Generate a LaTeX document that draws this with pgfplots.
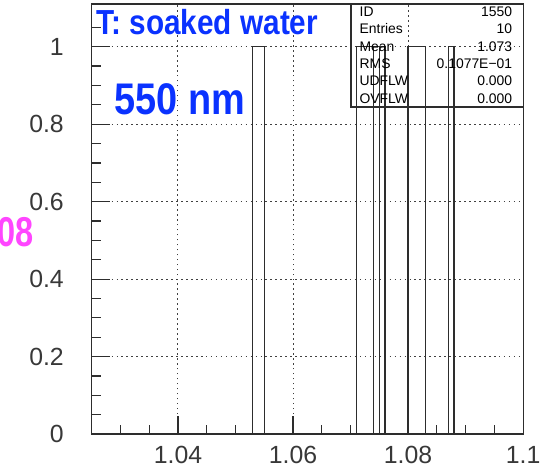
\documentclass[border=0pt]{standalone}
\usepackage{fontspec}
\setmainfont{Liberation Sans}
\usepackage{graphicx}
\usepackage{pgfplots}
\usepackage{pgfplotstable}
\pgfplotsset{compat=1.18}

\definecolor{titleblue}{RGB}{10,50,255}
\definecolor{labelmagenta}{RGB}{255,70,255}
\definecolor{inkgray}{RGB}{45,45,45}

% Outline of the histogram (bin width 0.001, one entry per filled bin)
\pgfplotstableread{
x      y
1.053  0
1.053  1
1.055  1
1.055  0
1.071  0
1.071  1
1.074  1
1.074  0
1.074  1
1.075  1
1.075  0
1.075  1
1.076  1
1.076  0
1.080  0
1.080  1
1.083  1
1.083  0
1.087  0
1.087  1
1.088  1
1.088  0
}\histoutline

\begin{document}
\begin{tikzpicture}
\begin{axis}[
  at={(0,0)}, anchor=south west,
  scale only axis, width=217.2pt, height=216.5pt,
  xmin=1.025, xmax=1.1, ymin=0, ymax=1.1103,
  xtick={1.04,1.06,1.08,1.1}, xticklabels={1.04,1.06,1.08,1.1},
  minor xtick={1.03,1.035,1.045,1.05,1.055,1.065,1.07,1.075,1.085,1.09,1.095},
  ytick={0,0.2,0.4,0.6,0.8,1}, yticklabels={0,0.2,0.4,0.6,0.8,1},
  minor ytick={0.05,0.1,0.15,0.25,0.3,0.35,0.45,0.5,0.55,0.65,0.7,0.75,0.85,0.9,0.95,1.05},
  tick align=inside, xtick pos=bottom, ytick pos=left,
  major tick length=9pt, minor tick length=4.75pt,
  tick style={inkgray, line width=0.6pt},
  axis line style={inkgray, line width=0.6pt},
  grid=major,
  major grid style={black!75, line width=0.5pt, dash pattern=on 0.8pt off 1.7pt},
  ticklabel style={font=\fontsize{12.5}{14}\selectfont, text=black!78},
  xticklabel style={yshift=-2.5pt},
  yticklabel style={xshift=-10.5pt},
]
\addplot[inkgray, line width=0.6pt, mark=none] table {\histoutline};
\end{axis}

% Annotations, placed in a pixel-like frame (origin top left, y downwards)
\begin{scope}[x=0.5pt, y=-0.5pt, shift={(-46.15pt,218.5pt)}]
  \useasboundingbox (0,0) rectangle (547,479);
  \node[anchor=base west, inner sep=0pt, text=titleblue]
    at (97,35) {\fontsize{17.5}{20}\selectfont\bfseries\scalebox{0.855}[1]{T: soaked water}};
  \node[anchor=base west, inner sep=0pt, text=titleblue]
    at (115,115) {\fontsize{22.3}{26}\selectfont\bfseries\scalebox{0.855}[1]{550 nm}};
  \node[anchor=base east, inner sep=0pt, text=labelmagenta]
    at (34,248) {\fontsize{21}{24}\selectfont\bfseries\scalebox{0.78}[1]{08}};

  % statistics box
  \draw[inkgray, line width=0.6pt] (353.3,4) rectangle (526.7,107.7);
  \begin{scope}[every node/.style={inner sep=0pt, font=\fontsize{7}{8}\selectfont}]
    \node[anchor=base west] at (361.7,16.5) {ID};
    \node[anchor=base west] at (361.7,34) {Entries};
    \node[anchor=base west] at (361.7,51.5) {Mean};
    \node[anchor=base west] at (361.7,69) {RMS};
    \node[anchor=base west] at (361.7,86.3) {UDFLW};
    \node[anchor=base west] at (361.7,103.7) {OVFLW};
    \node[anchor=base east] at (516,16.5) {1550};
    \node[anchor=base east] at (516,34) {10};
    \node[anchor=base east] at (516,51.5) {1.073};
    \node[anchor=base east] at (516,69) {0.1077E−01};
    \node[anchor=base east] at (516,86.3) {0.000};
    \node[anchor=base east] at (516,103.7) {0.000};
  \end{scope}
\end{scope}
\end{tikzpicture}
\end{document}
